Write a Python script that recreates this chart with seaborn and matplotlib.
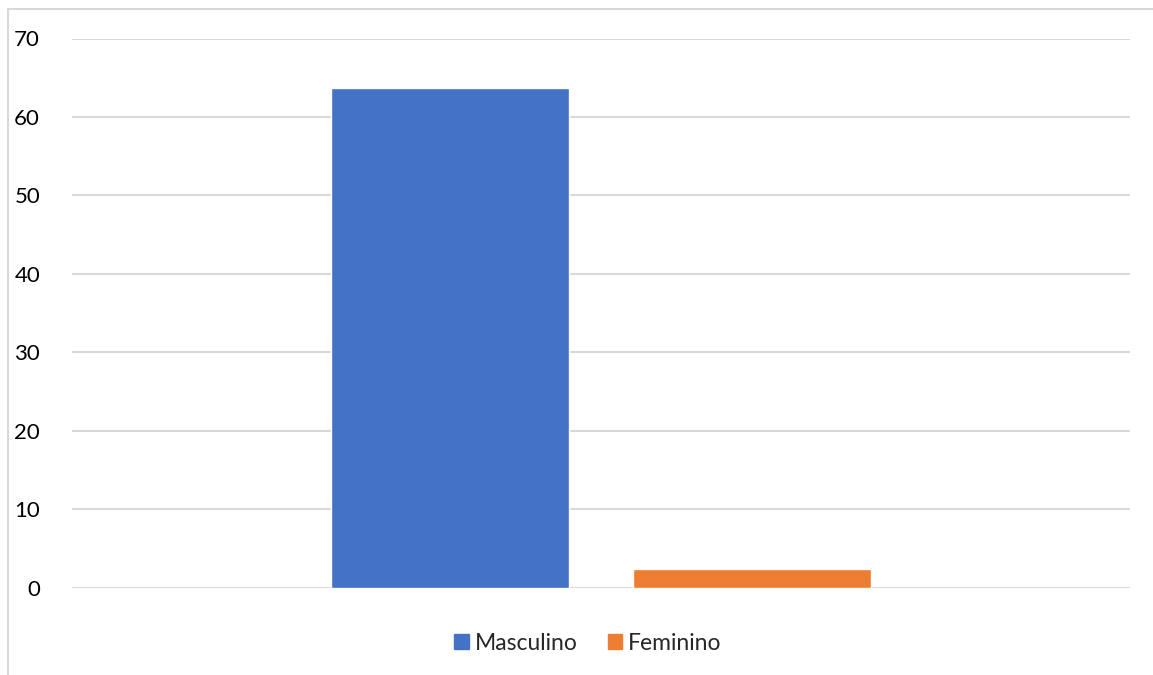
import pandas as pd
import seaborn as sns
import matplotlib.pyplot as plt
from matplotlib.patches import Rectangle

# data
sexo = ["Masculino", "Feminino"]
valores = [63.7, 2.4]
grupo = ["Total", "Total"]
cores = ["#4472C4", "#ED7D31"]

df = pd.DataFrame({"grupo": grupo, "sexo": sexo, "valor": valores})

sns.set_theme(style="white")
plt.rcParams["font.family"] = ["Lato", "DejaVu Sans"]

fig = plt.figure(figsize=(11.53, 6.75), dpi=100)
ax = fig.add_axes([72 / 1153, 1 - 587.5 / 675, (1130 - 72) / 1153, (587.5 - 38.5) / 675])

sns.barplot(data=df, x="grupo", y="valor", hue="sexo", palette=cores,
            width=0.572, gap=0.213, saturation=1, ax=ax, legend=False)

ax.set_ylim(0, 70)
ax.set_xlim(-0.5, 0.5)
ax.set_yticks(range(0, 71, 10))
ax.yaxis.grid(True, color="#D9D9D9", linewidth=1.5)
ax.set_axisbelow(True)
for s in ax.spines.values():
    s.set_visible(False)
ax.set_xticks([])
ax.set_xlabel("")
ax.set_ylabel("")
ax.tick_params(axis="y", length=0, pad=23, labelsize=16, labelcolor="#000000")

# chart border (excel style)
fig.patches.append(Rectangle((8 / 1153, -0.1), 1.2, 1.1 - 9 / 675,
                             transform=fig.transFigure, fill=False,
                             edgecolor="#D9D9D9", linewidth=1.5))

handles = [Rectangle((0, 0), 1, 1, color=c) for c in cores]
fig.legend(handles, sexo, loc="center", bbox_to_anchor=(588 / 1153, 1 - 643 / 675),
           ncol=2, frameon=False, fontsize=16.5, handlelength=0.65, handleheight=0.65,
           handletextpad=0.25, columnspacing=1.3)

fig.savefig("out.png", dpi=100)
